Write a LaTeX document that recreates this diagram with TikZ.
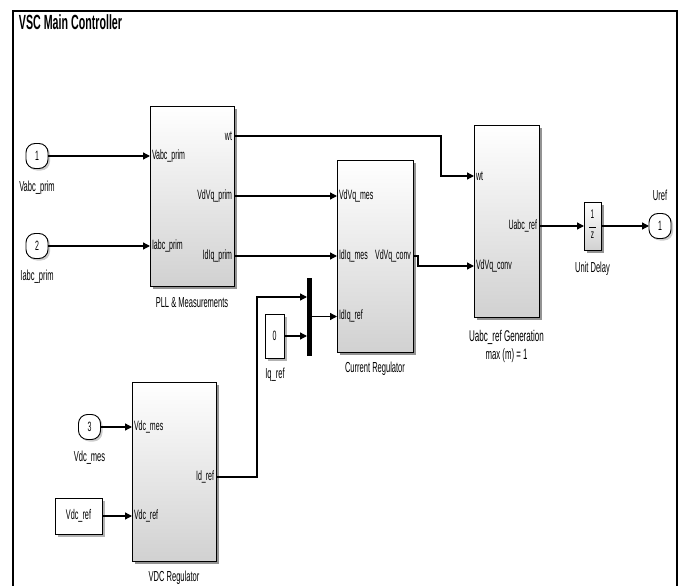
\documentclass[tikz,border=0pt]{standalone}
\usepackage{fontspec}
\setmainfont[FakeStretch=0.52]{Liberation Sans}
\usetikzlibrary{arrows.meta,shadows}
\begin{document}
\begin{tikzpicture}[x=1pt,y=-1pt,
  every node/.style={inner sep=0pt, outer sep=0pt},
  blk/.style={draw=black, line width=0.9pt, top color=white, bottom color=black!18,
    drop shadow={shadow xshift=3pt, shadow yshift=-3pt, fill=black!70, opacity=0.6}},
  inport/.style={draw=black, line width=0.9pt, fill=white, rounded corners=9pt,
    minimum width=22pt, minimum height=25pt, font=\fontsize{13.5}{13.5}\selectfont,
    drop shadow={shadow xshift=2pt, shadow yshift=-2pt, fill=black!50, opacity=0.4}},
  konst/.style={draw=black, line width=0.9pt, fill=white,
    drop shadow={shadow xshift=2.5pt, shadow yshift=-2.5pt, fill=black!60, opacity=0.5}},
  plab/.style={font=\fontsize{13.5}{13.5}\selectfont},
  blab/.style={font=\fontsize{14.5}{14.5}\selectfont},
  wire/.style={line width=1.3pt},
  arr/.style={wire, -{Triangle[length=7pt,width=7pt]}},
]
\useasboundingbox (0,0) rectangle (678,586);
\fill[white] (0,0) rectangle (678,586);

% frame and title
\draw[line width=2pt] (13,587) -- (13,11) -- (676.5,11) -- (676.5,587);
\node[anchor=west, font=\fontsize{20.5}{20.5}\selectfont\bfseries] (title) at (19,22) {VSC Main Controller};

% blocks
\node[blk, minimum width=84pt, minimum height=180pt] (pll) at (192,196) {};
\node[blk, minimum width=76pt, minimum height=192pt] (cr) at (375,256) {};
\node[blk, minimum width=65pt, minimum height=192pt] (ug) at (506.5,221) {};
\node[blk, minimum width=84pt, minimum height=179pt] (vdc) at (174,471.5) {};
\node[blk, minimum width=17pt, minimum height=48pt] (ud) at (592.5,226)
  {\fontsize{12.5}{12.5}\selectfont\begin{tabular}{@{}c@{}}1\\[-3pt]\rule{7pt}{0.7pt}\\[-2pt]z\end{tabular}};
\node[konst, minimum width=19pt, minimum height=44pt, font=\fontsize{13.5}{13.5}\selectfont] (k0) at (274.5,336) {0};
\node[konst, minimum width=47pt, minimum height=36pt, font=\fontsize{14}{14}\selectfont] (kvdc) at (78.5,516) {Vdc\_ref};
\node[draw=black, fill=black, minimum width=4pt, minimum height=77pt] (mux) at (309,316.5) {};

% in/out ports
\node[inport] (in1) at (37,156) {1};
\node[inport] (in2) at (37,246) {2};
\node[inport] (in3) at (89.5,427) {3};
\node[inport] (out1) at (660,226) {1};

% labels of ports and blocks
\node[blab] (lin1) at (37,188) {Vabc\_prim};
\node[blab] (lin2) at (37,277) {Iabc\_prim};
\node[blab] (lin3) at (89.5,458) {Vdc\_mes};
\node[blab] (lout1) at (660,195) {Uref};
\node[blab] (lpll) at (192,303) {PLL \& Measurements};
\node[blab] (lcr) at (375,369) {Current Regulator};
\node[blab, font=\fontsize{15.5}{15.5}\selectfont] (lug) at (506.5,337) {Uabc\_ref Generation};
\node[blab, font=\fontsize{15}{15}\selectfont] (lug2) at (506.5,356) {max (m) = 1};
\node[blab] (lud) at (592.5,269) {Unit Delay};
\node[blab] (lk0) at (275,375) {Iq\_ref};
\node[blab] (lvdc) at (174,578) {VDC Regulator};

% port coordinates
\coordinate (pwt) at (234,136);
\coordinate (pvd) at (234,196);
\coordinate (pid) at (234,256);
\coordinate (cconv) at (413,256);
\coordinate (gwt) at (474,176);
\coordinate (gconv) at (474,266);
\coordinate (guabc) at (539,226);
\coordinate (vidref) at (216,477);
\coordinate (mxa) at (307,297);

% port labels inside blocks
\node[plab, anchor=west] (t1) at (152,156) {Vabc\_prim};
\node[plab, anchor=west] (t2) at (152,246) {Iabc\_prim};
\node[plab, anchor=east] (t3) at (232,136) {wt};
\node[plab, anchor=east] (t4) at (232,196) {VdVq\_prim};
\node[plab, anchor=east] (t5) at (232,256) {IdIq\_prim};
\node[plab, anchor=west] (t6) at (339,196) {VdVq\_mes};
\node[plab, anchor=west] (t7) at (339,256) {IdIq\_mes};
\node[plab, anchor=west] (t8) at (339,316) {IdIq\_ref};
\node[plab, anchor=east] (t9) at (411,256) {VdVq\_conv};
\node[plab, anchor=west] (t10) at (476,176) {wt};
\node[plab, anchor=west] (t11) at (476,266) {VdVq\_conv};
\node[plab, anchor=east] (t12) at (537,226) {Uabc\_ref};
\node[plab, anchor=west] (t13) at (134,427) {Vdc\_mes};
\node[plab, anchor=west] (t14) at (134,516) {Vdc\_ref};
\node[plab, anchor=east] (t15) at (214,477) {Id\_ref};

% connectors
\draw[arr] (in1) -- (pll.west |- in1);
\draw[arr] (in2) -- (pll.west |- in2);
\draw[arr] (pwt) -- (441,136) |- (gwt);
\draw[arr] (pvd) -- (pvd -| cr.west);
\draw[arr] (pid) -- (pid -| cr.west);
\draw[arr] (cconv) -- (418,256) |- (gconv);
\draw[arr] (guabc) -- (ud.west);
\draw[arr] (ud) -- (out1);
\draw[arr] (vidref) -- (257,477) |- (mxa);
\draw[arr] (k0) -- (k0 -| mux.west);
\draw[arr] (mux.east) -- (mux.east -| cr.west);
\draw[arr] (in3) -- (in3 -| vdc.west);
\draw[arr] (kvdc) -- (kvdc -| vdc.west);
\end{tikzpicture}
\end{document}
